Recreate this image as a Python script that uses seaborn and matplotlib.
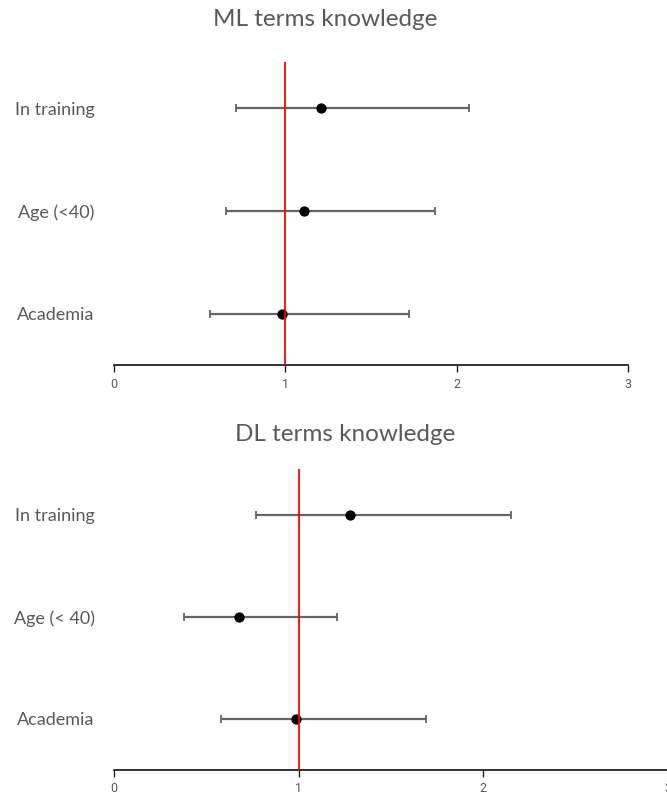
import pandas as pd
import matplotlib.pyplot as plt
import seaborn as sns

# odds ratios with 95% CI
ml_labels = ["In training", "Age (<40)", "Academia"]
ml_or = [1.21, 1.11, 0.98]
ml_low = [0.71, 0.655, 0.56]
ml_high = [2.07, 1.875, 1.72]

dl_labels = ["In training", "Age (< 40)", "Academia"]
dl_or = [1.28, 0.675, 0.985]
dl_low = [0.77, 0.38, 0.58]
dl_high = [2.15, 1.21, 1.69]

x_ticks = [0, 1, 2, 3]
ref_line = 1

sns.set_theme(style="white")
plt.rcParams["font.family"] = ["Lato", "DejaVu Sans"]

GRAY = "#595959"


def draw_panel(ax, labels, est, low, high, title, title_x, title_y):
    df = pd.DataFrame({"label": labels, "est": est, "low": low, "high": high})
    df["pos"] = range(len(df))

    ax.errorbar(df["est"], df["pos"],
                xerr=[df["est"] - df["low"], df["high"] - df["est"]],
                fmt="none", ecolor="#646464", elinewidth=1.6, capsize=3.2,
                capthick=1.3, zorder=2)
    sns.scatterplot(data=df, x="est", y="pos", ax=ax, color="black",
                    s=55, edgecolor="black", linewidth=0, zorder=3)
    ax.axvline(ref_line, color="#ff0000", lw=1.3, zorder=4)

    ax.set_xlim(x_ticks[0], x_ticks[-1])
    ax.set_ylim(len(df) - 0.5, -0.45)
    ax.set_xticks(x_ticks)
    ax.set_xticklabels([str(t) for t in x_ticks], fontsize=9, color=GRAY,
                       family="Roboto")
    ax.set_yticks(df["pos"])
    ax.set_yticklabels(df["label"], fontsize=13, color=GRAY)
    ax.tick_params(axis="x", direction="out", length=5, width=1,
                   color="#222222", pad=4, bottom=True)
    ax.tick_params(axis="y", length=0, pad=14)
    ax.set_xlabel("")
    ax.set_ylabel("")
    for side in ["top", "right", "left"]:
        ax.spines[side].set_visible(False)
    ax.spines["bottom"].set_color("#222222")
    ax.spines["bottom"].set_linewidth(1.3)
    ax.figure.text(title_x, title_y, title, ha="center", va="center",
                   fontsize=17.5, color=GRAY)


fig = plt.figure(figsize=(6.67, 7.97), dpi=100)
ax1 = fig.add_axes([0.1709, 0.542, 0.7706, 0.380])
ax2 = fig.add_axes([0.1709, 0.0339, 0.8306, 0.3777])

draw_panel(ax1, ml_labels, ml_or, ml_low, ml_high, "ML terms knowledge",
           325 / 667, 1 - 20 / 797)
draw_panel(ax2, dl_labels, dl_or, dl_low, dl_high, "DL terms knowledge",
           345 / 667, 1 - 434 / 797)

fig.savefig("out.png", dpi=100)
